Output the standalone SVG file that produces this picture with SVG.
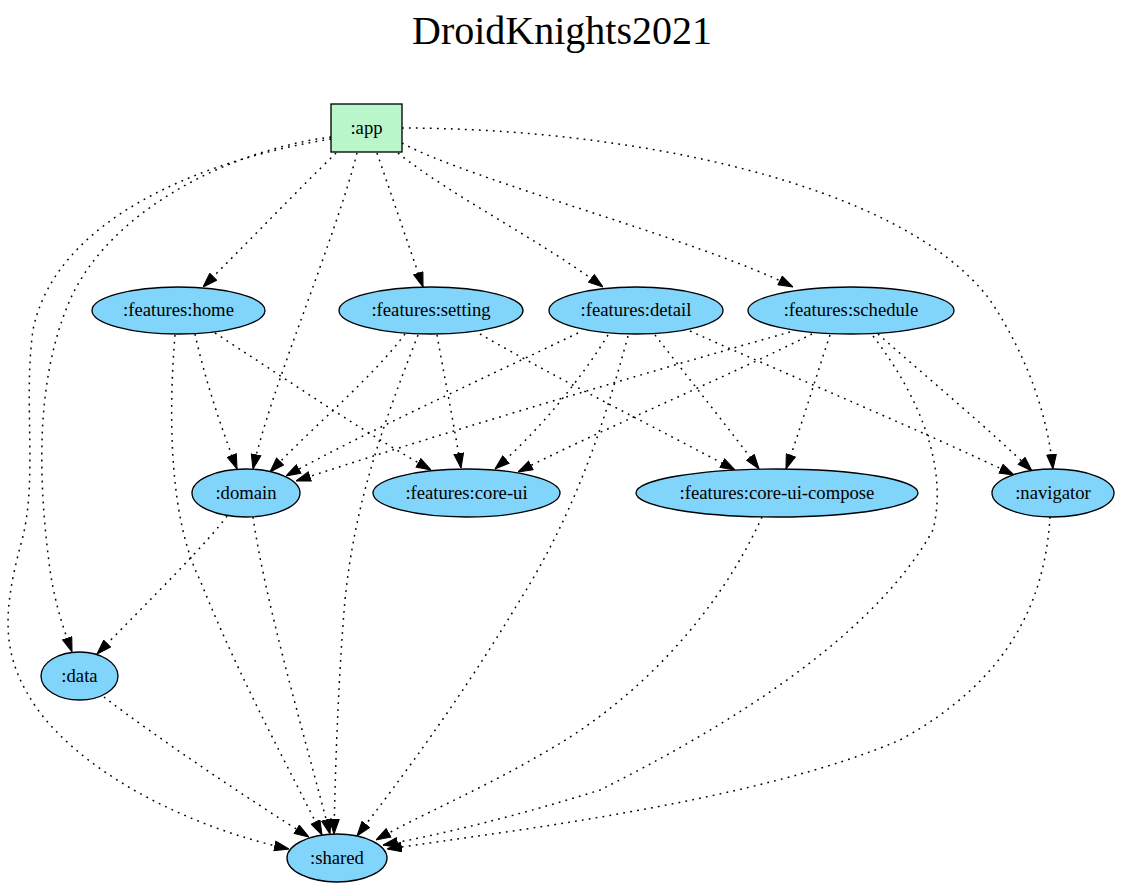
<svg xmlns="http://www.w3.org/2000/svg" width="1124" height="888" viewBox="0 0 1124 888">
<style>
  text { font-family: "Liberation Serif", "Times New Roman", Times, serif; fill: #000; }
  .title { font-size: 40px; text-anchor: middle; }
  .lbl { font-family: "Liberation Serif", "Times New Roman", Times, serif; font-size: 18.67px; text-anchor: middle; }
  .mod { fill: #81d4fa; stroke: #000; stroke-width: 1.33; }
  .app { fill: #b9f6ca; stroke: #000; stroke-width: 1.33; }
  .e { fill: none; stroke: #000; stroke-width: 1.5; stroke-dasharray: 1.8 5.2; marker-end: url(#ah); }
</style>
<defs>
  <marker id="ah" markerUnits="userSpaceOnUse" markerWidth="15" markerHeight="11" refX="14" refY="5" orient="auto" viewBox="0 0 14 10">
    <path d="M0.5,0.5 L14,5 L0.5,9.5 z" fill="#000" stroke="#000" stroke-width="1"/>
  </marker>
</defs>
<rect width="1124" height="888" fill="#fff"/>
<text class="title" x="562" y="44">DroidKnights2021</text>

<g id="connectors">
  <!-- from :app -->
  <path class="e" d="M336,153 C 300,188 245,245 203,287"/>
  <path class="e" d="M377,153 L423,287"/>
  <path class="e" d="M398,153 C 450,195 540,240 603,287"/>
  <path class="e" d="M402,143 C 470,180 700,240 793,287"/>
  <path class="e" d="M402,128 C 620,128 900,180 990,300 C 1030,360 1048,420 1053,469"/>
  <path class="e" d="M357,153 C 335,240 270,390 253,469"/>
  <path class="e" d="M331,137 C 230,150 110,210 70,300 C 35,380 38,480 50,570 C 56,610 66,635 72,652"/>
  <path class="e" d="M331,139 C 200,160 55,220 33,330 C 23,400 38,480 22,540 C 0,620 3,660 38,710 C 90,780 200,830 289,849"/>
  <!-- from :features:home -->
  <path class="e" d="M195,334 C 205,380 222,430 237,469"/>
  <path class="e" d="M215,333 C 280,375 360,430 431,470"/>
  <path class="e" d="M175,335 C 168,420 170,520 200,580 C 240,680 290,770 322,835"/>
  <!-- from :features:setting -->
  <path class="e" d="M405,334 C 370,380 320,420 270,472"/>
  <path class="e" d="M437,335 C 445,380 455,430 461,468"/>
  <path class="e" d="M480,334 C 560,380 660,430 735,470"/>
  <path class="e" d="M418,335 C 385,420 355,500 345,600 C 338,680 335,780 334,834"/>
  <!-- from :features:detail -->
  <path class="e" d="M578,333 C 480,380 370,430 286,476"/>
  <path class="e" d="M608,335 C 580,380 540,430 495,469"/>
  <path class="e" d="M655,335 C 690,380 730,430 759,469"/>
  <path class="e" d="M690,331 C 800,380 920,430 1014,475"/>
  <path class="e" d="M628,336 C 600,440 570,520 520,600 C 460,700 400,780 357,836"/>
  <!-- from :features:schedule -->
  <path class="e" d="M790,332 C 620,380 420,440 296,481"/>
  <path class="e" d="M812,334 C 720,380 600,430 518,472"/>
  <path class="e" d="M830,335 C 815,380 800,430 786,469"/>
  <path class="e" d="M878,334 C 930,380 990,430 1032,471"/>
  <path class="e" d="M873,336 C 922,400 948,470 933,530 C 872,640 720,730 600,790 C 520,815 440,835 383,845"/>
  <!-- from :domain -->
  <path class="e" d="M227,516 C 210,540 150,600 97,654"/>
  <path class="e" d="M253,517 C 265,600 300,720 330,834"/>
  <!-- from :features:core-ui-compose -->
  <path class="e" d="M762,517 C 720,610 640,700 540,755 C 480,790 420,815 376,840"/>
  <!-- from :navigator -->
  <path class="e" d="M1050,517 C 1045,600 1010,680 900,740 C 760,800 520,830 387,849"/>
  <!-- from :data -->
  <path class="e" d="M104,697 C 160,740 250,800 309,837"/>
</g>

<g id="node-app">
  <rect class="app" x="331" y="104" width="71" height="48"/>
  <text class="lbl" x="366.5" y="133.5">:app</text>
</g>
<g id="node-home">
  <ellipse class="mod" cx="178.5" cy="310.5" rx="86.5" ry="23.5"/>
  <text class="lbl" x="178.5" y="316">:features:home</text>
</g>
<g id="node-setting">
  <ellipse class="mod" cx="431" cy="310.5" rx="92" ry="23.5"/>
  <text class="lbl" x="431" y="316">:features:setting</text>
</g>
<g id="node-detail">
  <ellipse class="mod" cx="636" cy="310.5" rx="87" ry="23.5"/>
  <text class="lbl" x="636" y="316">:features:detail</text>
</g>
<g id="node-schedule">
  <ellipse class="mod" cx="851" cy="310.5" rx="103" ry="23.5"/>
  <text class="lbl" x="851" y="316">:features:schedule</text>
</g>
<g id="node-domain">
  <ellipse class="mod" cx="246" cy="493" rx="54" ry="24"/>
  <text class="lbl" x="246" y="498.5">:domain</text>
</g>
<g id="node-core-ui">
  <ellipse class="mod" cx="466.5" cy="493" rx="93.5" ry="24"/>
  <text class="lbl" x="466.5" y="498.5">:features:core-ui</text>
</g>
<g id="node-core-ui-compose">
  <ellipse class="mod" cx="777" cy="493" rx="141" ry="24"/>
  <text class="lbl" x="777" y="498.5">:features:core-ui-compose</text>
</g>
<g id="node-navigator">
  <ellipse class="mod" cx="1053" cy="493" rx="61" ry="24"/>
  <text class="lbl" x="1053" y="498.5">:navigator</text>
</g>
<g id="node-data">
  <ellipse class="mod" cx="79.5" cy="676" rx="38.5" ry="24"/>
  <text class="lbl" x="79.5" y="681.5">:data</text>
</g>
<g id="node-shared">
  <ellipse class="mod" cx="337" cy="858" rx="50" ry="24"/>
  <text class="lbl" x="337" y="863.5">:shared</text>
</g>
</svg>
